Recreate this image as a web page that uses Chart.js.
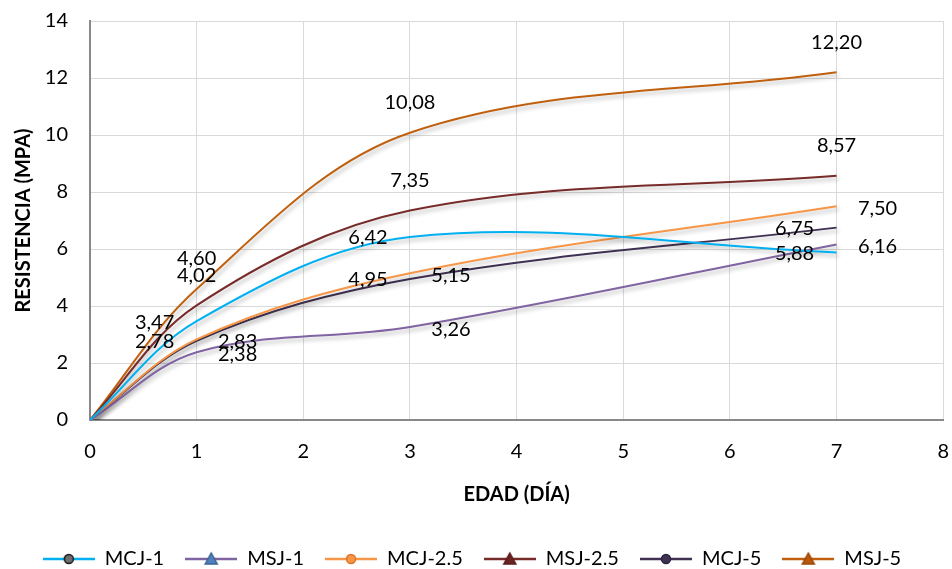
<!DOCTYPE html>
<html>
<head>
<meta charset="utf-8">
<script src="https://cdn.jsdelivr.net/npm/chart.js@4.4.1/dist/chart.umd.min.js"></script>
<style>
  html, body { margin: 0; padding: 0; background: #fff; }
  #wrap { width: 952px; height: 569px; }
</style>
</head>
<body>
<div id="wrap"><canvas id="chart" width="952" height="569"></canvas></div>
<script>
// edad en días
const ages = [0, 1, 3, 7]
const seriesNames = ['MCJ-1', 'MSJ-1', 'MCJ-2.5', 'MSJ-2.5', 'MCJ-5', 'MSJ-5']
const mcj1 = [0, 3.47, 6.42, 5.88]
const msj1 = [0, 2.38, 3.26, 6.16]
const mcj25 = [0, 2.83, 5.15, 7.50]
const msj25 = [0, 4.02, 7.35, 8.57]
const mcj5 = [0, 2.78, 4.95, 6.75]
const msj5 = [0, 4.60, 10.08, 12.20]
const seriesValues = [mcj1, msj1, mcj25, msj25, mcj5, msj5]

const lineColors = ['#00b0f0', '#8064a2', '#f79646', '#772c2a', '#403152', '#c0600e']
const markers = [
  { shape: 'circle', fill: '#6e6e6e', stroke: '#1a1a1a' },
  { shape: 'triangle', fill: '#4f81bd', stroke: '#3a6294' },
  { shape: 'circle', fill: '#f79646', stroke: '#d9752a' },
  { shape: 'triangle', fill: '#6b2422', stroke: '#5a1d1b' },
  { shape: 'circle', fill: '#403152', stroke: '#2e2340' },
  { shape: 'triangle', fill: '#b8560a', stroke: '#9c4808' }
]
// where the value label sits relative to its point (Excel style)
const labelPos = ['left', 'right', 'right', 'above', 'left', 'above']
const labelOffsets = { left: [-42, 1], right: [41, 2], above: [0, -30] }

const fmt = v => v.toFixed(2).replace('.', ',')

function legendIcon(color, m) {
  const c = document.createElement('canvas')
  c.width = 52
  c.height = 16
  const g = c.getContext('2d')
  g.strokeStyle = color
  g.lineWidth = 2.5
  g.beginPath()
  g.moveTo(0, 8)
  g.lineTo(52, 8)
  g.stroke()
  g.fillStyle = m.fill
  g.strokeStyle = m.stroke
  g.lineWidth = 1.5
  g.beginPath()
  if (m.shape === 'circle') {
    g.arc(26, 8, 4.5, 0, Math.PI * 2)
  } else {
    g.moveTo(26, 2)
    g.lineTo(32, 13)
    g.lineTo(20, 13)
    g.closePath()
  }
  g.fill()
  g.stroke()
  return c
}

const icons = lineColors.map((c, i) => legendIcon(c, markers[i]))

const datasets = seriesNames.map((name, i) => ({
  label: name,
  data: ages.map((x, j) => ({ x: x, y: seriesValues[i][j] })),
  borderColor: lineColors[i],
  backgroundColor: lineColors[i],
  borderWidth: 2,
  pointRadius: 0,
  pointHoverRadius: 0,
  tension: 0.35,
  fill: false,
  labelPos: labelPos[i]
}))

const shadowPlugin = {
  id: 'shadow',
  beforeDatasetsDraw(chart) {
    const ctx = chart.ctx
    ctx.save()
    ctx.shadowColor = 'rgba(0,0,0,0.28)'
    ctx.shadowBlur = 4
    ctx.shadowOffsetX = 2
    ctx.shadowOffsetY = 3
  },
  afterDatasetsDraw(chart) {
    chart.ctx.restore()
  }
}

const valueLabels = {
  id: 'valueLabels',
  afterDatasetsDraw(chart) {
    const ctx = chart.ctx
    ctx.save()
    ctx.font = '20px Lato'
    ctx.fillStyle = '#000'
    ctx.textAlign = 'center'
    ctx.textBaseline = 'middle'
    chart.data.datasets.forEach((ds, i) => {
      const meta = chart.getDatasetMeta(i)
      const off = labelOffsets[ds.labelPos]
      meta.data.forEach((pt, j) => {
        if (j === 0) return
        ctx.fillText(fmt(ds.data[j].y), pt.x + off[0], pt.y + off[1])
      })
    })
    ctx.restore()
  }
}

Chart.defaults.font.family = 'Lato, sans-serif'
Chart.defaults.font.size = 20
Chart.defaults.color = '#000'

new Chart(document.getElementById('chart'), {
  type: 'line',
  data: { datasets: datasets },
  plugins: [shadowPlugin, valueLabels],
  options: {
    responsive: false,
    animation: false,
    layout: { padding: { top: 21, right: 8, left: 0, bottom: -10 } },
    plugins: {
      tooltip: { enabled: false },
      legend: {
        position: 'bottom',
        labels: {
          color: '#000',
          font: { size: 20 },
          usePointStyle: true,
          pointStyleWidth: 52,
          padding: 21,
          generateLabels: chart => chart.data.datasets.map((ds, i) => ({
            text: ds.label,
            pointStyle: icons[i],
            fillStyle: ds.borderColor,
            strokeStyle: ds.borderColor,
            lineWidth: 0,
            datasetIndex: i,
            hidden: false
          }))
        }
      }
    },
    scales: {
      x: {
        type: 'linear',
        min: 0,
        max: 8,
        ticks: { stepSize: 1, padding: 3 },
        grid: { color: '#d9d9d9', drawTicks: true, tickLength: 17, tickColor: 'rgba(0,0,0,0)' },
        border: { color: '#898989', width: 2 },
        title: {
          display: true,
          text: 'EDAD (DÍA)',
          font: { size: 20, weight: 'bold' },
          padding: { top: 0, bottom: 21 }
        },
        afterFit: scale => {
          const lh = scale.chart.legend ? scale.chart.legend.height : 0
          scale.height = 569 + 10 - 420 - lh
        }
      },
      y: {
        min: 0,
        max: 14,
        ticks: { stepSize: 2, padding: 3 },
        grid: { color: '#d9d9d9', drawTicks: true, tickLength: 19, tickColor: 'rgba(0,0,0,0)' },
        border: { color: '#898989', width: 2 },
        title: {
          display: true,
          text: 'RESISTENCIA (MPA)',
          font: { size: 20, weight: 'bold' },
          padding: { top: 12, bottom: 4 }
        },
        afterFit: scale => { scale.width = 90 }
      }
    }
  }
})
</script>
</body>
</html>
